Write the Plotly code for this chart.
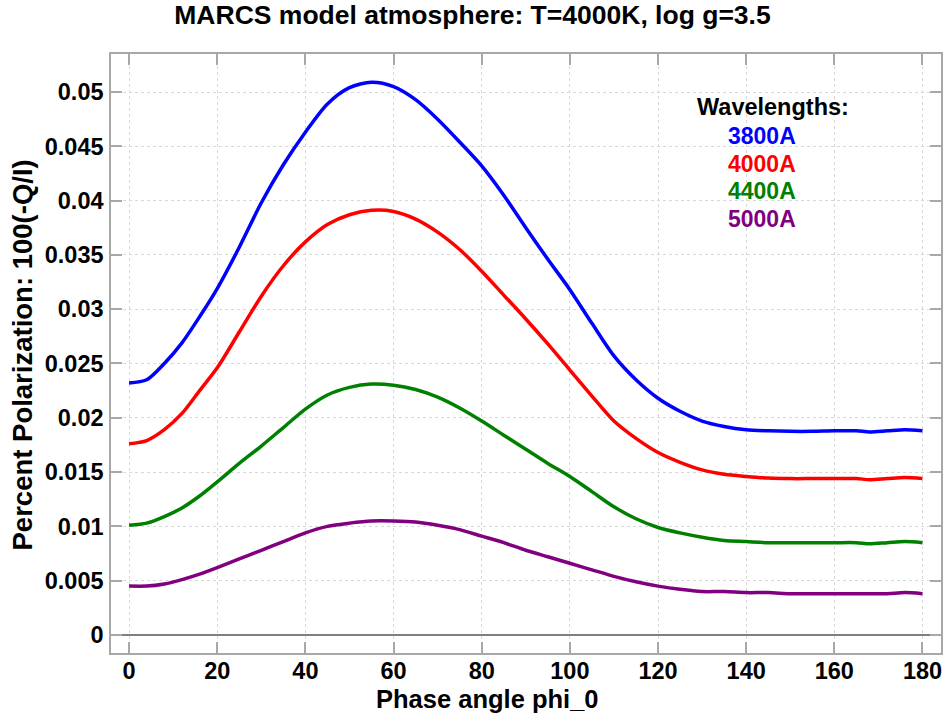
import plotly.graph_objects as go

phase = [0, 4, 8, 12, 16, 20, 25, 30, 35, 40, 45, 50, 55, 60, 65, 70, 75, 80, 85, 90,
         95, 100, 105, 110, 115, 120, 125, 130, 135, 140, 145, 150, 155, 160, 165,
         168, 172, 176, 180]

pol_3800 = [0.0232, 0.0235, 0.0250, 0.0269, 0.0293, 0.0319, 0.0357, 0.0398, 0.0433, 0.0463,
            0.0489, 0.0504, 0.0509, 0.0505, 0.0493, 0.0475, 0.0454, 0.0432, 0.0405, 0.0375,
            0.0346, 0.0318, 0.0287, 0.0257, 0.0235, 0.0218, 0.0206, 0.0197, 0.0192, 0.0189,
            0.0188, 0.01875, 0.01875, 0.0188, 0.0188, 0.0187, 0.0188, 0.0189, 0.0188]

pol_4000 = [0.0176, 0.0179, 0.0189, 0.0204, 0.0225, 0.0246, 0.0279, 0.0312, 0.0340, 0.0362,
            0.0378, 0.0387, 0.0391, 0.0390, 0.0383, 0.0371, 0.0355, 0.0335, 0.0313, 0.0291,
            0.0268, 0.0244, 0.0220, 0.0197, 0.0181, 0.0168, 0.0159, 0.0152, 0.0148, 0.0146,
            0.01445, 0.0144, 0.0144, 0.0144, 0.0144, 0.0143, 0.0144, 0.0145, 0.0144]

pol_4400 = [0.0101, 0.0103, 0.0109, 0.0117, 0.0128, 0.0141, 0.0158, 0.0174, 0.0191, 0.0208,
            0.0221, 0.0228, 0.0231, 0.0230, 0.0226, 0.0219, 0.0209, 0.0197, 0.0184, 0.0171,
            0.0158, 0.0146, 0.0132, 0.0118, 0.0107, 0.0099, 0.0094, 0.0090, 0.0087, 0.0086,
            0.0085, 0.0085, 0.0085, 0.0085, 0.0085, 0.0084, 0.0085, 0.0086, 0.0085]

pol_5000 = [0.0045, 0.0045, 0.0047, 0.0051, 0.0056, 0.0062, 0.0070, 0.0078, 0.0086, 0.0094,
            0.0100, 0.0103, 0.0105, 0.0105, 0.0104, 0.0101, 0.0097, 0.0091, 0.0085, 0.0078,
            0.0072, 0.0066, 0.0060, 0.0054, 0.0049, 0.0045, 0.0042, 0.0040, 0.0040, 0.0039,
            0.0039, 0.0038, 0.0038, 0.0038, 0.0038, 0.0038, 0.0038, 0.0039, 0.0038]

series_names = ["3800A", "4000A", "4400A", "5000A"]
series_colors = ["#0000ff", "#ff0000", "#008000", "#800080"]
series_values = [pol_3800, pol_4000, pol_4400, pol_5000]

x_ticks = [0, 20, 40, 60, 80, 100, 120, 140, 160, 180]
y_ticks = [0, 0.005, 0.01, 0.015, 0.02, 0.025, 0.03, 0.035, 0.04, 0.045, 0.05]
y_tick_labels = ["0", "0.005", "0.01", "0.015", "0.02", "0.025", "0.03", "0.035",
                 "0.04", "0.045", "0.05"]

FONT = "Liberation Sans, Arial, Helvetica, sans-serif"

fig = go.Figure()
for name, color, vals in zip(series_names, series_colors, series_values):
    fig.add_trace(go.Scatter(x=phase, y=vals, mode="lines", name=name,
                             line=dict(color=color, width=3.5, shape="spline", smoothing=0.8)))

axis_common = dict(
    showline=True, mirror="allticks", linecolor="#a8a8a8", linewidth=1.5,
    ticks="inside", ticklen=11, tickcolor="#a8a8a8", tickwidth=1.5,
    showgrid=True, gridcolor="#d8d8d8", griddash="dot", gridwidth=1,
    tickfont=dict(family=FONT, size=23.5, color="black", weight="bold"),
)

fig.update_xaxes(range=[-4.1, 184.2], tickvals=x_ticks, zeroline=False,
                 ticklabelstandoff=-4, **axis_common)
fig.update_yaxes(range=[-0.00166, 0.0535], tickvals=y_ticks, ticktext=y_tick_labels,
                 zeroline=True, zerolinecolor="#808080", zerolinewidth=2,
                 ticklabelstandoff=1, **axis_common)

annotations = [
    dict(text="<b>Phase angle phi_0</b>", xref="paper", yref="paper", x=0.454, y=-0.077,
         xanchor="center", yanchor="middle", showarrow=False,
         font=dict(family=FONT, size=25.5, color="black")),
    dict(text="<b>Percent Polarization: 100(-Q/I)</b>", xref="paper", yref="paper",
         x=-0.107, y=0.497, xanchor="center", yanchor="middle", textangle=-90, showarrow=False,
         font=dict(family=FONT, size=27.5, color="black")),
    dict(text="<b>Wavelengths:</b>", xref="paper", yref="paper", x=0.797, y=0.9115,
         xanchor="center", yanchor="middle", showarrow=False,
         font=dict(family=FONT, size=23.5, color="black")),
]
legend_y = [0.863, 0.817, 0.771, 0.7245]
for name, color, ly in zip(series_names, series_colors, legend_y):
    annotations.append(dict(text="<b>%s</b>" % name, xref="paper", yref="paper", x=0.784, y=ly,
                            xanchor="center", yanchor="middle", showarrow=False,
                            font=dict(family=FONT, size=23, color=color)))

fig.update_layout(
    width=945, height=717,
    margin=dict(l=111, r=2, t=54, b=64),
    paper_bgcolor="white", plot_bgcolor="white",
    showlegend=False,
    title=dict(text="<b>MARCS model atmosphere: T=4000K, log g=3.5</b>",
               x=0.5, xref="container", xanchor="center",
               y=0.979, yref="container", yanchor="middle",
               font=dict(family=FONT, size=26.5, color="black")),
    annotations=annotations,
)

fig.write_html("out.html", config={"displayModeBar": False},
               post_script="document.body.style.margin='0px';")
